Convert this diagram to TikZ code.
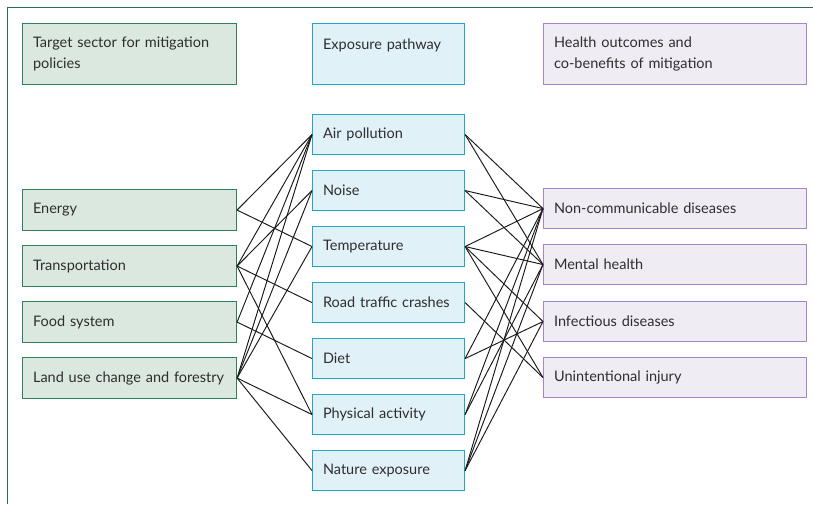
\documentclass[tikz,border=0pt]{standalone}
\usepackage{fontspec}
\setmainfont{Lato}
\definecolor{framegreen}{HTML}{2A6E4A}
\definecolor{sectorline}{HTML}{2E8057}
\definecolor{sectorfill}{HTML}{DAE8E0}
\definecolor{pathline}{HTML}{22A6CF}
\definecolor{pathfill}{HTML}{E1F1F8}
\definecolor{outline}{HTML}{A585C8}
\definecolor{outfill}{HTML}{EFECF4}
\definecolor{labelgray}{HTML}{2E2E2E}

\begin{document}
\begin{tikzpicture}[x=1pt, y=-1pt,
    box/.style={rectangle, anchor=north west, align=left, inner ysep=0pt,
        inner xsep=10.5pt, line width=1.1pt, text=labelgray,
        font=\fontsize{14.5}{21}\selectfont},
    sector/.style={box, draw=sectorline, fill=sectorfill, text width=193pt, minimum height=41pt},
    pathway/.style={box, draw=pathline, fill=pathfill, text width=131pt, minimum height=40pt},
    outcome/.style={box, draw=outline, fill=outfill, text width=242pt, minimum height=40pt},
    link/.style={line width=0.95pt, black!90}]

    \useasboundingbox (0,0) rectangle (813,504);
    % outer frame
    \draw[framegreen, line width=1pt] (7,504) -- (7,7) -- (813,7);

    % column headings
    \node[sector, minimum height=61pt] (sechead) at (22,23) {Target sector for mitigation\\policies};
    \node[pathway, minimum height=61pt] (pathhead) at (312,23) {Exposure pathway\\[-1pt]\phantom{x}};
    \node[outcome, minimum height=61pt] (outhead) at (543,23) {Health outcomes and\\co-benefits of mitigation};

    % target sectors
    \node[sector] (energy) at (22,189) {Energy};
    \node[sector] (transport) at (22,245) {Transportation};
    \node[sector] (food) at (22,301) {Food system};
    \node[sector] (land) at (22,357) {Land use change and forestry};

    % exposure pathways
    \node[pathway] (air) at (312,114) {Air pollution};
    \node[pathway] (noise) at (312,170) {Noise};
    \node[pathway] (temp) at (312,226) {Temperature};
    \node[pathway] (road) at (312,282) {Road traffic crashes};
    \node[pathway] (diet) at (312,338) {Diet};
    \node[pathway] (phys) at (312,394) {Physical activity};
    \node[pathway] (nature) at (312,450) {Nature exposure};

    % health outcomes
    \node[outcome] (ncd) at (543,188) {Non-communicable diseases};
    \node[outcome] (mental) at (543,244) {Mental health};
    \node[outcome] (infect) at (543,301) {Infectious diseases};
    \node[outcome] (injury) at (543,357) {Unintentional injury};

    % sector -> pathway
    \foreach \a/\b in {energy/air, energy/temp, transport/air, transport/noise,
        transport/road, transport/phys, food/air, food/diet, land/air,
        land/noise, land/temp, land/phys, land/nature}
        \draw[link] (\a.east) -- (\b.west);

    % pathway -> outcome
    \foreach \a/\b in {air/ncd, air/mental, noise/ncd, noise/mental, temp/ncd,
        temp/mental, temp/infect, temp/injury, road/injury, diet/ncd,
        diet/infect, phys/ncd, phys/mental, nature/ncd, nature/mental, nature/infect}
        \draw[link] (\a.east) -- (\b.west);

\end{tikzpicture}
\end{document}
